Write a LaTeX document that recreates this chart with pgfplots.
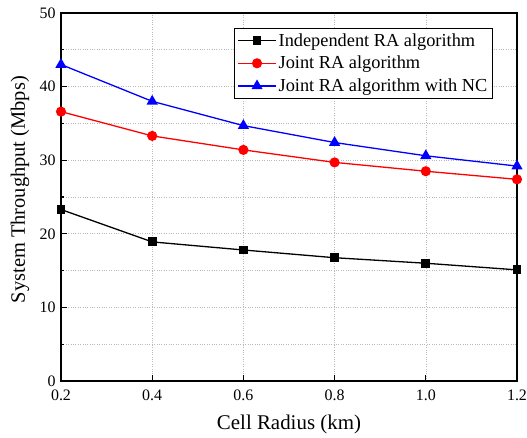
\documentclass[border=0pt]{standalone}
\usepackage{pgfplots}
\pgfplotsset{compat=1.18}
\usepackage{fontspec}
\setmainfont{Liberation Serif}
\begin{document}
\begin{tikzpicture}
\useasboundingbox (-61bp,-57bp) rectangle (466bp,381bp);
\begin{axis}[
  at={(0,0)}, anchor=south west,
  scale only axis,
  width=456bp, height=368bp,
  xmin=0.2, xmax=1.2, ymin=0, ymax=50,
  xtick={0.2,0.4,0.6,0.8,1.0,1.2},
  xticklabels={0.2,0.4,0.6,0.8,1.0,1.2},
  ytick={0,10,20,30,40,50},
  minor ytick={5,15,25,35,45},
  tick pos=left,
  tick align=inside,
  major tick length=6bp,
  minor tick length=3.5bp,
  axis line style={line width=1.6bp},
  every tick/.style={black, line width=1.2bp},
  grid=both,
  major grid style={gray!55, dotted, line width=0.6bp},
  minor grid style={gray!55, dotted, line width=0.6bp},
  /pgf/number format/assume math mode=true,
  tick label style={font=\fontsize{16}{18}\selectfont},
  yticklabel style={xshift=-2bp},
  xticklabel style={yshift=-5bp},
  xlabel={Cell Radius (km)},
  ylabel={System Throughput (Mbps)},
  xlabel style={font=\fontsize{21}{24}\selectfont, at={(axis description cs:0.5,-0.133)}, anchor=base},
  ylabel style={font=\fontsize{20.5}{24}\selectfont, at={(axis description cs:-0.09,0.52)}, anchor=center},
  legend style={at={(0.947,0.959)}, anchor=north east, draw=black, line width=0.8bp,
    font=\fontsize{18.4}{19}\selectfont, row sep=4.5bp, inner sep=3bp},
  legend cell align=left,
  legend image code/.code={\draw[mark repeat=2,mark phase=2,#1] plot coordinates {(0cm,0cm) (0.67cm,0cm) (1.34cm,0cm)};},
]
\addplot[black, line width=1.3bp, mark=square*, mark size=3.8bp, mark options={solid}] coordinates {
(0.2,23.3) (0.4,18.9) (0.6,17.8) (0.8,16.75) (1.0,16.0) (1.2,15.1)};
\addlegendentry{Independent RA algorithm}
\addplot[red, line width=1.3bp, mark=*, mark size=4.4bp, mark options={solid}] coordinates {
(0.2,36.6) (0.4,33.3) (0.6,31.4) (0.8,29.7) (1.0,28.5) (1.2,27.4)};
\addlegendentry{Joint RA algorithm}
\addplot[blue, line width=1.3bp, mark=triangle*, mark size=5.2bp, mark options={solid}] coordinates {
(0.2,43.0) (0.4,38.0) (0.6,34.7) (0.8,32.4) (1.0,30.6) (1.2,29.2)};
\addlegendentry{Joint RA algorithm with NC}
\end{axis}
\end{tikzpicture}
\end{document}
